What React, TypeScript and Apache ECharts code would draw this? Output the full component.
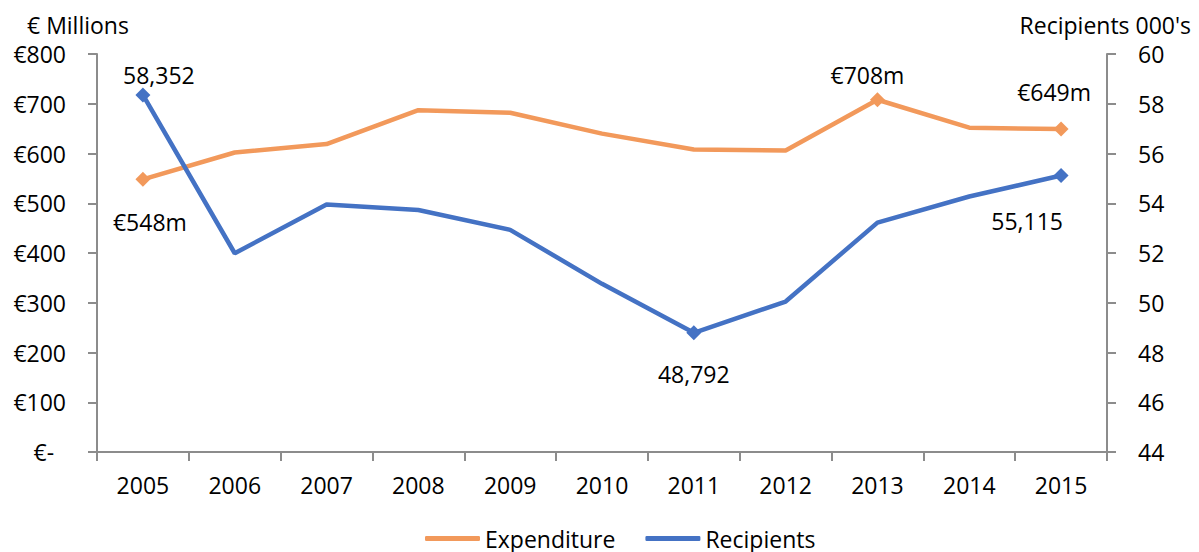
import React, { useEffect, useRef } from "react";
import * as echarts from "echarts";

const years = ["2005", "2006", "2007", "2008", "2009", "2010", "2011", "2012", "2013", "2014", "2015"];
const expenditure = [548, 602, 619, 687, 682, 640, 608, 606, 708, 652, 649];
const recipients = [58.352, 51.99, 53.95, 53.73, 52.93, 50.76, 48.792, 50.05, 53.22, 54.27, 55.115];
const expLabels: Record<number, string> = { 0: "€548m", 8: "€708m", 10: "€649m" };
const recLabels: Record<number, string> = { 0: "58,352", 6: "48,792", 10: "55,115" };

const FONT = "'Open Sans', 'Noto Sans', sans-serif";
const FS = 23;
const ORANGE = "#F2995B";
const BLUE = "#4472C4";
const AXIS = "#8C8C8C";

const expLabelStyle: Record<number, any> = {
  0: { position: "bottom", offset: [7, 19] },
  8: { position: "top", offset: [-10, -1] },
  10: { position: "top", offset: [-7, -13] },
};
const recLabelStyle: Record<number, any> = {
  0: { position: "top", offset: [16, 4] },
  6: { position: "bottom", offset: [0, 17] },
  10: { position: "bottom", offset: [-34, 21] },
};

function buildData(values: number[], labels: Record<number, string>, styles: Record<number, any>) {
  return values.map((v, i) => {
    if (labels[i] === undefined) return { value: v, symbol: "none" };
    return {
      value: v,
      symbol: "diamond",
      symbolSize: 15,
      label: {
        show: true,
        formatter: labels[i],
        color: "#000",
        fontSize: FS,
        fontFamily: FONT,
        ...styles[i],
      },
    };
  });
}

export default function App() {
  const ref = useRef<HTMLDivElement>(null);
  useEffect(() => {
    if (!ref.current) return;
    const chart = echarts.init(ref.current, undefined, { renderer: "svg" });
    chart.setOption({
      animation: false,
      backgroundColor: "#fff",
      textStyle: { fontFamily: FONT },
      grid: { left: 97, right: 92, top: 54, bottom: 100, containLabel: false },
      legend: {
        bottom: -3,
        left: 420,
        icon: "roundRect",
        itemWidth: 55,
        itemHeight: 5,
        itemGap: 30,
        textStyle: { fontSize: FS, color: "#000", fontFamily: FONT },
        data: ["Expenditure", "Recipients"],
      },
      graphic: [
        { type: "text", left: 27, top: 13, style: { text: "€ Millions", fontSize: FS, fontFamily: FONT, fill: "#000" } },
        { type: "text", right: 8, top: 13, style: { text: "Recipients 000's", fontSize: FS, fontFamily: FONT, fill: "#000" } },
      ],
      xAxis: {
        type: "category",
        data: years,
        boundaryGap: true,
        axisLine: { lineStyle: { color: AXIS, width: 2 } },
        axisTick: { show: true, length: 9, lineStyle: { color: AXIS, width: 2 } },
        axisLabel: { fontSize: FS, color: "#000", fontFamily: FONT, margin: 21 },
      },
      yAxis: [
        {
          type: "value",
          min: 0,
          max: 800,
          interval: 100,
          splitLine: { show: false },
          axisLine: { show: true, lineStyle: { color: AXIS, width: 2 } },
          axisTick: { show: true, length: 9, lineStyle: { color: AXIS, width: 2 } },
          axisLabel: {
            fontSize: FS,
            color: "#000",
            fontFamily: FONT,
            margin: 31,
            formatter: (v: number) => (v === 0 ? "€-  " : "€" + v),
          },
        },
        {
          type: "value",
          min: 44,
          max: 60,
          interval: 2,
          position: "right",
          splitLine: { show: false },
          axisLine: { show: true, lineStyle: { color: AXIS, width: 2 } },
          axisTick: { show: true, length: 9, lineStyle: { color: AXIS, width: 2 } },
          axisLabel: { fontSize: FS, color: "#000", fontFamily: FONT, margin: 31 },
        },
      ],
      series: [
        {
          name: "Expenditure",
          type: "line",
          yAxisIndex: 0,
          data: buildData(expenditure, expLabels, expLabelStyle),
          lineStyle: { color: ORANGE, width: 4.5 },
          itemStyle: { color: ORANGE },
          color: ORANGE,
          showSymbol: true,
          z: 2,
        },
        {
          name: "Recipients",
          type: "line",
          yAxisIndex: 1,
          data: buildData(recipients, recLabels, recLabelStyle),
          lineStyle: { color: BLUE, width: 4.5 },
          itemStyle: { color: BLUE },
          color: BLUE,
          showSymbol: true,
          z: 3,
        },
      ],
    });
    return () => chart.dispose();
  }, []);
  return <div ref={ref} style={{ width: 1199, height: 552, position: "absolute", left: 0, top: 0 }} />;
}
